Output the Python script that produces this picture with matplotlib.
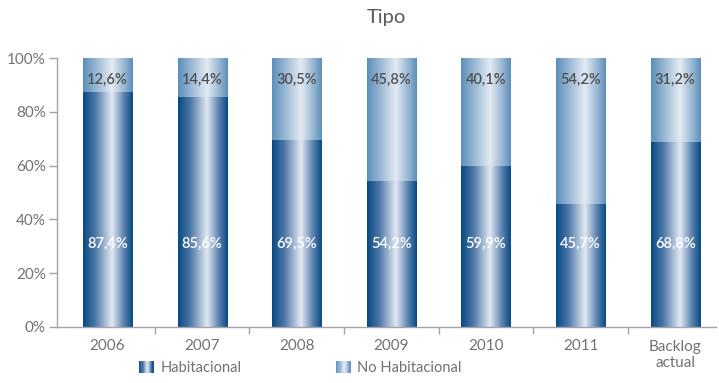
import numpy as np
import matplotlib
matplotlib.use("Agg")
import matplotlib.pyplot as plt
from matplotlib.colors import LinearSegmentedColormap
from matplotlib.patches import Rectangle
from matplotlib.legend_handler import HandlerBase

plt.rcParams['font.family'] = ['Lato', 'DejaVu Sans']

categorias = ['2006', '2007', '2008', '2009', '2010', '2011', 'Backlog\nactual']
habitacional = [87.4, 85.6, 69.5, 54.2, 59.9, 45.7, 68.8]
no_habitacional = [12.6, 14.4, 30.5, 45.8, 40.1, 54.2, 31.2]
etiquetas_y = ['0%', '20%', '40%', '60%', '80%', '100%']

gris_texto = '#727272'
gris_eje = '#a3a3ad'

# degradado horizontal tipo cilindro para cada serie
cmap_hab = LinearSegmentedColormap.from_list('hab', [
    (0.0, '#064a84'), (0.25, '#4f78a8'), (0.58, '#e2e9f2'),
    (0.82, '#5d82b0'), (1.0, '#064a84')])
cmap_nohab = LinearSegmentedColormap.from_list('nohab', [
    (0.0, '#5b8fba'), (0.25, '#95b5d2'), (0.58, '#e4ebf3'),
    (0.82, '#9ab8d4'), (1.0, '#5b8fba')])
grad = np.linspace(0, 1, 256).reshape(1, -1)


def rellenar_degradado(ax, barras, cmap):
    for b in barras:
        b.set_facecolor('none')
        b.set_edgecolor('none')
        x, y = b.get_x(), b.get_y()
        w, h = b.get_width(), b.get_height()
        im = ax.imshow(grad, cmap=cmap, aspect='auto', extent=(x, x + w, y, y + h),
                       origin='lower', zorder=2, interpolation='bicubic')
        im.set_clip_path(b)


class HandlerDegradado(HandlerBase):
    def __init__(self, cmap):
        super().__init__()
        self.cmap = cmap

    def create_artists(self, legend, orig_handle, xdescent, ydescent, width, height, fontsize, trans):
        n = 12
        arts = []
        for i in range(n):
            r = Rectangle((-xdescent + width * i / n, -ydescent), width / n + 0.3, height,
                          facecolor=self.cmap((i + 0.5) / n), edgecolor='none', transform=trans)
            arts.append(r)
        return arts


fig = plt.figure(figsize=(7.19, 3.83), dpi=100)
ax = fig.add_axes([57 / 719, 1 - 327 / 383, (716 - 57) / 719, (327 - 58) / 383])

x = np.arange(len(categorias))
ancho = 0.52
b1 = ax.bar(x, habitacional, ancho, label='Habitacional')
b2 = ax.bar(x, no_habitacional, ancho, bottom=habitacional, label='No Habitacional')
rellenar_degradado(ax, b1, cmap_hab)
rellenar_degradado(ax, b2, cmap_nohab)

for i in range(len(categorias)):
    ax.text(x[i], 31, f"{habitacional[i]:.1f}%".replace('.', ','), ha='center', va='center',
            color='white', fontsize=10.5, fontweight='semibold', zorder=3)
    ax.text(x[i], 92, f"{no_habitacional[i]:.1f}%".replace('.', ','), ha='center', va='center',
            color='#505050', fontsize=10.5, fontweight='semibold', zorder=3)

ax.set_xlim(-0.534, 6.43)
ax.set_ylim(0, 100)

ax.set_yticks(np.arange(0, 101, 20))
ax.set_yticklabels(etiquetas_y)
ax.set_xticks(x)
ax.set_xticklabels(categorias)
ax.set_xticks(np.arange(0.5, 6, 1), minor=True)
ax.tick_params(axis='x', which='major', length=0, pad=9, labelsize=11, colors=gris_texto)
ax.tick_params(axis='x', which='minor', length=5, width=1, color=gris_eje)
ax.tick_params(axis='y', length=6, width=1, color=gris_eje, labelsize=11, labelcolor=gris_texto, pad=2)
for s in ['top', 'right']:
    ax.spines[s].set_visible(False)
for s in ['left', 'bottom']:
    ax.spines[s].set_color(gris_eje)
    ax.spines[s].set_linewidth(1)

fig.text(386 / 719, 1 - 17 / 383, 'Tipo', ha='center', va='center', fontsize=14.5,
         color='#5a5a5a')

# leyenda en dos piezas para controlar la separación
for barras, cmap, xpos in [(b1, cmap_hab, 139), (b2, cmap_nohab, 336)]:
    fig.legend(handles=[barras], labels=[barras.get_label()], loc='center left',
               bbox_to_anchor=(xpos / 719, 1 - 368 / 383), frameon=False,
               handler_map={barras: HandlerDegradado(cmap)}, handlelength=1.0,
               handleheight=0.8, handletextpad=0.45, borderpad=0, borderaxespad=0,
               prop={'size': 10.5}, labelcolor=gris_texto)

fig.savefig('out.png', dpi=100)
